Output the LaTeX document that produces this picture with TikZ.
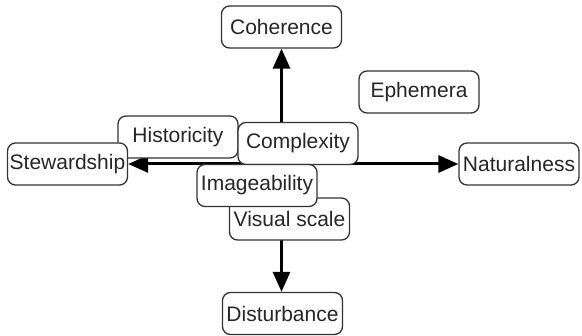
\documentclass[tikz,border=0pt]{standalone}
\usepackage{fontspec}
\setmainfont{Liberation Sans}
\usetikzlibrary{arrows.meta,backgrounds}

\definecolor{trait}{HTML}{333333}

\begin{document}
\begin{tikzpicture}[
  x=1pt,y=-1pt,
  >={Triangle[length=20pt,width=17pt]},
  boite/.style={draw=trait,line width=1.3pt,rounded corners=8pt,fill=white,
    minimum width=120pt,minimum height=42pt,inner sep=1pt,
    font=\fontsize{21}{22}\selectfont,text=black!85},
  axe/.style={line width=3pt,<->},
]
  \useasboundingbox (0,0) rectangle (582,336);

  % Boites (ordre = superposition)
  \node[boite] (historicity) at (178,137)   {Historicity};
  \node[boite] (stewardship) at (67.5,164)  {Stewardship};
  \node[boite] (complexity)  at (298,143.5) {Complexity};
  \node[boite] (visualscale) at (289.5,219) {Visual scale};
  \node[boite] (imageability) at (257,185.5) {Imageability};
  \node[boite] (coherence)   at (281.5,27)  {Coherence};
  \node[boite] (disturbance) at (282.5,313.5) {Disturbance};
  \node[boite] (naturalness) at (519,164)   {Naturalness};
  \node[boite] (ephemera)    at (419,92)    {Ephemera};

  % Axes (derriere les boites)
  \begin{scope}[on background layer]
    \draw[axe] (stewardship) -- (naturalness);
    \draw[axe] (coherence.south) -- (coherence.south |- disturbance.north);
  \end{scope}
\end{tikzpicture}
\end{document}
